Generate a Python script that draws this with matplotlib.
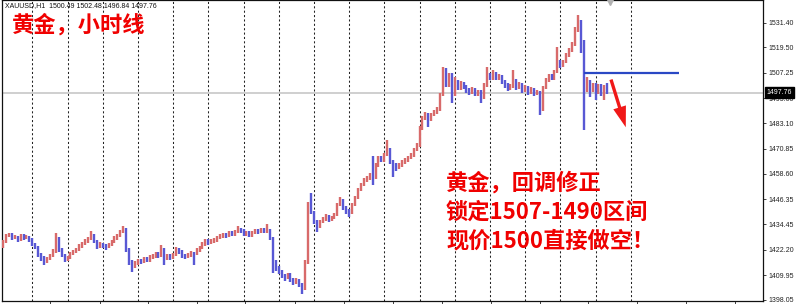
import matplotlib
matplotlib.use("Agg")
import matplotlib.pyplot as plt
import matplotlib.transforms as mtransforms
from matplotlib.patches import FancyArrowPatch
import numpy as np

# ---------------- data ----------------
header_text = "XAUUSD,H1  1500.49 1502.48 1496.84 1497.76"
title_text = "黄金，小时线"
note_lines = ["黄金，回调修正", "锁定1507-1490区间", "现价1500直接做空！"]

first_open = 1424.5
closes = [
    1425.9, 1428.8, 1429.3, 1427.8, 1428.3, 1426.9, 1428.8, 1427.8, 1428.3, 1427.3,
    1424.9, 1423.5, 1419.6, 1418.2, 1416.7, 1417.7, 1419.2, 1421.1, 1427.8, 1422.1, 1419.6, 1417.7,
    1418.2, 1420.1, 1421.1, 1422.1, 1424.0, 1424.9, 1426.4, 1427.3, 1428.8, 1426.4, 1424.0, 1424.9,
    1424.0, 1423.5, 1424.5, 1425.9, 1427.8, 1428.8, 1430.7, 1431.7, 1422.1, 1416.3, 1414.4, 1415.8,
    1416.8, 1416.3, 1417.7, 1417.2, 1418.7, 1419.2, 1420.1, 1419.6, 1422.1, 1418.2, 1419.2, 1418.2,
    1419.6, 1422.1, 1421.1, 1419.2, 1418.7, 1419.6, 1420.6, 1420.1, 1422.1, 1423.0, 1424.9, 1426.4,
    1425.4, 1426.4, 1426.9, 1427.8, 1428.8, 1429.3, 1428.8, 1430.2, 1429.7, 1430.7, 1431.7, 1431.2,
    1429.7, 1430.2, 1429.3, 1430.2, 1431.2, 1430.7, 1431.7, 1431.2, 1431.7, 1427.8, 1416.3, 1413.4,
    1411.5, 1409.6, 1408.6, 1410.0, 1407.6, 1406.7, 1407.6, 1405.2, 1403.3, 1416.3, 1444.2, 1440.3,
    1436.0, 1433.2, 1435.5, 1436.9, 1438.4, 1436.5, 1437.4, 1438.9, 1443.7, 1446.1, 1442.3, 1440.8,
    1439.9, 1443.7, 1447.1, 1450.9, 1453.3, 1455.7, 1456.7, 1458.1, 1456.7, 1462.9, 1466.3, 1465.3,
    1467.8, 1470.2, 1464.4, 1462.9, 1461.5, 1462.9, 1464.4, 1465.3, 1466.3, 1467.8, 1470.2, 1472.1,
    1480.7, 1485.5, 1487.0, 1484.6, 1487.0, 1488.4, 1489.4, 1496.6, 1507.7, 1501.4, 1506.2, 1496.6,
    1502.9, 1500.0, 1501.9, 1500.5, 1499.0, 1498.0, 1499.5, 1497.1, 1498.0, 1495.6, 1501.4, 1506.2,
    1504.8, 1506.7, 1504.8, 1505.7, 1502.9, 1501.4, 1500.0, 1500.9, 1503.8, 1500.0, 1501.9, 1499.0,
    1500.0, 1498.0, 1499.0, 1497.6, 1498.0, 1489.4, 1500.0, 1503.8, 1505.7, 1504.8, 1507.7, 1512.5,
    1510.6, 1512.5, 1515.8, 1518.3, 1520.7, 1527.9, 1531.7, 1520.7, 1499.0, 1502.9, 1499.0, 1501.4,
    1498.0, 1500.9, 1499.0, 1500.49, 1497.76,
]
highs = [
    1426.8, 1429.7, 1430.2, 1430.0, 1429.2, 1429.0, 1429.6, 1429.5, 1429.4, 1429.0,
    1427.9, 1425.6, 1424.0, 1420.4, 1419.0, 1418.6, 1420.1, 1422.3, 1430.2, 1428.3, 1422.8, 1420.1,
    1419.3, 1421.0, 1422.0, 1423.2, 1425.0, 1426.0, 1427.3, 1428.4, 1431.0, 1429.5, 1426.9, 1425.8,
    1425.6, 1424.8, 1425.4, 1426.9, 1428.7, 1429.9, 1431.6, 1433.6, 1432.4, 1422.9, 1417.0, 1416.9,
    1417.9, 1417.6, 1418.8, 1418.6, 1419.8, 1420.3, 1421.0, 1421.2, 1424.5, 1422.8, 1420.3, 1420.0,
    1420.7, 1423.5, 1422.9, 1421.8, 1420.0, 1420.6, 1421.5, 1421.3, 1423.0, 1424.1, 1425.9, 1427.3,
    1427.2, 1427.4, 1428.0, 1428.9, 1429.7, 1430.4, 1430.1, 1431.3, 1431.0, 1431.8, 1433.6, 1432.5,
    1431.9, 1431.2, 1431.0, 1431.1, 1432.2, 1432.0, 1432.8, 1432.6, 1434.6, 1432.3, 1428.5, 1417.0,
    1414.3, 1412.3, 1410.5, 1411.2, 1410.8, 1408.5, 1408.7, 1408.3, 1406.0, 1417.4, 1445.0, 1449.5,
    1441.0, 1436.6, 1436.4, 1438.0, 1439.5, 1439.1, 1438.5, 1440.0, 1444.8, 1447.5, 1446.8, 1443.0,
    1441.7, 1444.6, 1448.0, 1451.8, 1454.4, 1456.8, 1457.8, 1459.3, 1467.3, 1463.9, 1467.3, 1467.2,
    1468.8, 1475.0, 1471.0, 1465.2, 1463.8, 1463.8, 1465.4, 1466.4, 1467.4, 1468.8, 1471.2, 1473.3,
    1481.8, 1486.6, 1488.4, 1487.8, 1488.0, 1489.6, 1490.8, 1497.8, 1510.1, 1509.6, 1507.4, 1507.0,
    1505.2, 1503.8, 1503.4, 1502.8, 1501.3, 1500.0, 1500.6, 1500.2, 1499.2, 1498.8, 1502.4, 1509.9,
    1507.2, 1508.6, 1507.5, 1506.8, 1506.4, 1503.6, 1502.2, 1502.0, 1508.6, 1504.5, 1503.0, 1502.6,
    1501.2, 1500.8, 1500.3, 1499.8, 1499.1, 1498.6, 1501.0, 1504.8, 1506.8, 1506.9, 1508.8, 1519.7,
    1513.4, 1513.6, 1516.9, 1519.4, 1522.0, 1529.2, 1535.1, 1532.6, 1523.0, 1505.2, 1503.8, 1502.6,
    1502.2, 1502.0, 1501.8, 1501.3, 1502.48,
]
lows = [
    1423.0, 1425.4, 1428.3, 1427.0, 1427.1, 1426.0, 1426.4, 1427.0, 1427.2, 1426.1,
    1424.0, 1422.4, 1418.7, 1416.9, 1414.8, 1415.9, 1417.0, 1418.6, 1420.6, 1421.0, 1418.5, 1416.3,
    1416.8, 1417.6, 1419.4, 1420.5, 1421.6, 1423.2, 1424.2, 1425.6, 1426.8, 1425.5, 1422.6, 1423.1,
    1422.8, 1422.1, 1422.9, 1423.8, 1425.2, 1427.0, 1428.1, 1430.0, 1421.0, 1414.9, 1411.5, 1413.6,
    1415.0, 1415.1, 1415.6, 1416.1, 1416.5, 1417.8, 1418.3, 1418.4, 1418.9, 1414.8, 1417.0, 1417.1,
    1417.5, 1419.0, 1420.0, 1418.3, 1417.6, 1418.0, 1418.9, 1414.8, 1419.4, 1421.3, 1422.4, 1424.1,
    1424.5, 1424.8, 1425.6, 1426.1, 1427.1, 1428.0, 1427.7, 1428.1, 1428.8, 1429.0, 1430.0, 1430.1,
    1428.6, 1428.9, 1428.3, 1428.5, 1429.6, 1429.8, 1430.0, 1430.3, 1430.4, 1426.9, 1411.0, 1411.9,
    1410.3, 1408.4, 1407.3, 1407.9, 1406.4, 1405.3, 1405.9, 1404.1, 1400.9, 1402.6, 1415.5, 1439.4,
    1434.6, 1430.7, 1432.6, 1434.8, 1436.2, 1435.5, 1435.8, 1436.8, 1438.2, 1443.0, 1441.5, 1439.4,
    1437.9, 1439.2, 1443.0, 1446.4, 1450.2, 1452.6, 1454.6, 1455.9, 1453.3, 1456.0, 1462.2, 1464.3,
    1464.6, 1467.1, 1463.5, 1457.2, 1460.2, 1460.8, 1462.0, 1463.6, 1464.5, 1465.6, 1467.0, 1469.5,
    1471.5, 1480.0, 1484.6, 1481.2, 1484.0, 1486.3, 1487.6, 1488.9, 1495.9, 1500.5, 1500.6, 1492.7,
    1496.0, 1499.0, 1499.2, 1499.4, 1497.8, 1496.8, 1497.2, 1495.9, 1496.2, 1492.8, 1494.9, 1500.6,
    1503.6, 1503.9, 1503.6, 1503.8, 1501.8, 1500.0, 1498.6, 1499.0, 1500.2, 1498.8, 1499.3, 1497.6,
    1498.2, 1496.8, 1497.2, 1496.3, 1496.6, 1487.0, 1488.8, 1499.3, 1503.0, 1503.9, 1504.0, 1507.0,
    1509.6, 1509.9, 1511.8, 1515.0, 1517.5, 1520.0, 1527.0, 1516.8, 1479.8, 1498.0, 1495.6, 1498.0,
    1494.2, 1497.2, 1496.3, 1494.2, 1496.84,
]

first_day_bar = 10
bars_per_day = 12
n_separators = 18
y_ticks = [1531.40, 1519.50, 1507.25, 1495.00, 1483.10, 1470.85,
           1458.60, 1446.35, 1434.45, 1422.20, 1409.95, 1398.05]
current_price = 1497.76
level_price = 1507.3          # blue horizontal level
level_start_bar = 198
level_end_bar = 230.5

# ---------------- figure ----------------
W, H = 800, 304
fig = plt.figure(figsize=(W / 100, H / 100), dpi=100)
ax = fig.add_axes([2 / W, 3 / H, 761 / W, 301 / H])

c = np.array(closes)
o = np.concatenate([[first_open], c[:-1]])
hi = np.maximum(np.array(highs), np.maximum(o, c))
lo = np.minimum(np.array(lows), np.minimum(o, c))
idx = np.arange(len(c))
up = c >= o
red = "#d86a6a"
blue = "#5858d4"

# day separators
for k in range(n_separators):
    ax.axvline(first_day_bar + k * bars_per_day, color="#222222", lw=0.75,
               dashes=(2, 2.2), zorder=1)

# current price line
ax.axhline(current_price, color="#cfcfcf", lw=1.4, zorder=1)

# OHLC bars
ax.vlines(idx[up], lo[up], hi[up], color=red, lw=1.7, zorder=3)
ax.vlines(idx[~up], lo[~up], hi[~up], color=blue, lw=1.7, zorder=3)

# blue level line
ax.plot([level_start_bar, level_end_bar], [level_price, level_price],
        color="#2a48c4", lw=1.6, zorder=4, solid_capstyle="butt")

# red arrow
arr = FancyArrowPatch((idx[-1] + 1.0, level_price - 2.0),
                      (idx[-1] + 6.6, level_price - 27.5),
                      arrowstyle="simple,head_length=1.5,head_width=0.95,tail_width=0.24",
                      mutation_scale=10, color="#f01818", lw=0, zorder=5)
ax.add_patch(arr)

# axes limits
ax.set_xlim(-0.35, 259.1)
ax.set_ylim(1397.5, 1542.3)

for s in ax.spines.values():
    s.set_color("#111111")
    s.set_linewidth(0.9)

ax.yaxis.tick_right()
ax.set_yticks(y_ticks)
ax.set_yticklabels([f"{v:.2f}" for v in y_ticks], fontsize=5,
                   family="Liberation Sans", color="#222222")
ax.tick_params(axis="y", direction="out", length=2.5, width=0.6, pad=1.2,
               colors="#222222")
ax.set_xticks([16.0, 33.1, 49.4, 66.1, 82.5, 99.6, 116.3, 133.0, 149.6, 166.3,
               183.0, 199.6, 216.3, 233.0, 249.6])
ax.set_xticklabels([])
ax.tick_params(axis="x", direction="out", length=3, width=0.6, colors="#222222")

# current price box
trans = mtransforms.blended_transform_factory(ax.transAxes, ax.transData)
ax.text(1.0045, current_price, f"{current_price:.2f}", transform=trans,
        fontsize=5, family="Liberation Sans", color="white", va="center",
        ha="left", zorder=10,
        bbox=dict(boxstyle="square,pad=0.25", fc="black", ec="black"))

# small chart-shift marker at top
ax.plot([0.799], [0.995], marker="v", ms=4, color="#b0b0b0",
        transform=ax.transAxes, clip_on=False, zorder=6)

# header text
fig.text(5 / W, 1 - 6 / H, header_text, fontsize=5, family="Liberation Sans",
         color="#111111", va="center", ha="left")

cjk = ["Noto Sans CJK SC", "DejaVu Sans"]
fig.text(12 / W, 1 - 25 / H, title_text, fontsize=16, family=cjk,
         weight="bold", color="#f00000", va="center", ha="left")

for line, yc in zip(note_lines, [183, 212, 241]):
    fig.text(446 / W, 1 - yc / H, line, fontsize=16, family=cjk,
             weight="bold", color="#f00000", va="center", ha="left")

fig.savefig("out.png", dpi=100)
